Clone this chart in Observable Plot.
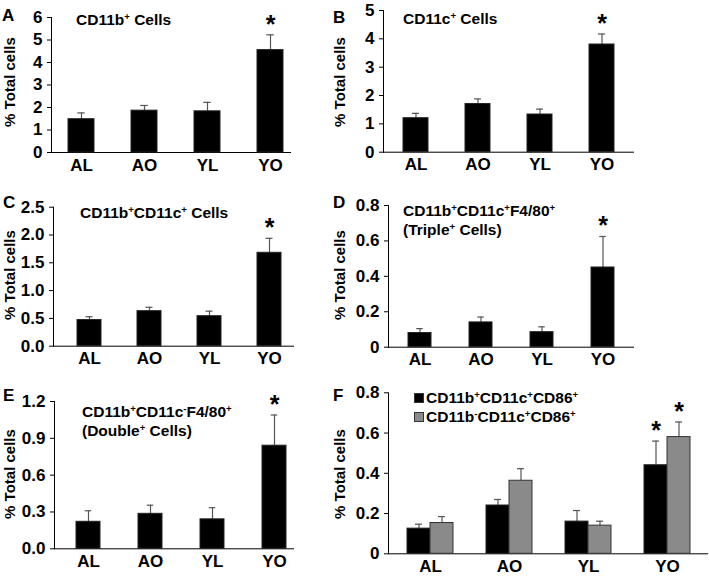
<!DOCTYPE html>
<html>
<head>
<meta charset="utf-8">
<script src="https://cdn.jsdelivr.net/npm/d3@7"></script>
<script src="https://cdn.jsdelivr.net/npm/@observablehq/plot@0.6"></script>
<style>
  html, body { margin: 0; padding: 0; background: #fff; }
  #fig { position: relative; width: 709px; height: 581px; overflow: hidden; font-family: "Liberation Sans", Arial, sans-serif; font-weight: bold; color: #000; }
  .panel { position: absolute; }
  .lbl { position: absolute; white-space: nowrap; line-height: 1; }
  .letter { font-size: 17px; }
  .title { font-size: 15.5px; line-height: 17px; }
  .ylab { font-size: 15px; transform: translate(-50%, -50%) rotate(-90deg); }
  sup { font-size: 0.62em; vertical-align: 0; position: relative; top: -0.55em; }
  .sw { display: inline-block; width: 10px; height: 10px; box-sizing: border-box; border: 1px solid #333; margin-right: 2px; vertical-align: 0; position: relative; top: 0px; }
</style>
</head>
<body>
<div id="fig"></div>
<script>
// ---------------- data ----------------
const groups = ["AL", "AO", "YL", "YO"];
const significant = [false, false, false, true];

const cd11bMean = [1.48, 1.86, 1.83, 4.55];
const cd11bErr  = [0.28, 0.23, 0.40, 0.68];

const cd11cMean = [1.20, 1.70, 1.33, 3.80];
const cd11cErr  = [0.17, 0.18, 0.19, 0.37];

const doubleCMean = [0.47, 0.63, 0.54, 1.68];
const doubleCErr  = [0.06, 0.07, 0.09, 0.26];

const tripleMean = [0.08, 0.14, 0.085, 0.45];
const tripleErr  = [0.025, 0.03, 0.03, 0.175];

const doubleFMean = [0.22, 0.285, 0.24, 0.84];
const doubleFErr  = [0.09, 0.07, 0.095, 0.25];

const cd86PosMean = [0.125, 0.24, 0.16, 0.44];
const cd86PosErr  = [0.022, 0.03, 0.055, 0.12];
const cd86NegMean = [0.153, 0.363, 0.14, 0.58];
const cd86NegErr  = [0.032, 0.06, 0.022, 0.075];

const ticksA = [0, 1, 2, 3, 4, 5, 6];
const ticksB = [0, 1, 2, 3, 4, 5];
const ticksC = [0, 0.5, 1.0, 1.5, 2.0, 2.5];
const ticksD = [0, 0.2, 0.4, 0.6, 0.8];
const ticksE = [0, 0.3, 0.6, 0.9, 1.2];
const ticksF = [0, 0.2, 0.4, 0.6, 0.8];

const seriesF = ["CD11b⁺CD11c⁺CD86⁺", "CD11b⁻CD11c⁺CD86⁺"];
const colorsF = ["#000000", "#8a8a8a"];

// ---------------- layout helpers ----------------
const fig = document.getElementById("fig");
function bandOpts(L, s, w, st) {
  const pi = 1 - w / st;
  const po = Math.max(0, (L / st - groups.length + pi) / 2);
  const align = Math.min(1, Math.max(0, s / (L - st * (groups.length - pi))));
  return {paddingInner: pi, paddingOuter: po, align};
}
function place(node, left, top) {
  const d = document.createElement("div");
  d.className = "panel";
  d.style.left = left + "px"; d.style.top = top + "px";
  d.appendChild(node);
  fig.appendChild(d);
}
function label(html, cls, left, top) {
  const d = document.createElement("div");
  d.className = "lbl " + cls;
  d.style.left = left + "px"; d.style.top = top + "px";
  d.innerHTML = html;
  fig.appendChild(d);
}
const style = {fontFamily: "'Liberation Sans', Arial, sans-serif", fontSize: "17px", fontWeight: "bold", background: "transparent", overflow: "visible", color: "#000"};

function singlePanel(means, errs, yDomain, ticks, fmt, g) {
  const rows = groups.map((grp, i) => ({g: grp, v: means[i], e: errs[i], top: means[i] + errs[i], sig: significant[i]}));
  const L = g.right - g.axis;
  const capInset = (g.w - 7) / 2;
  return Plot.plot({
    width: g.width, height: g.height,
    marginLeft: g.axis, marginRight: g.width - g.right,
    marginTop: g.top, marginBottom: g.height - g.zero,
    style,
    x: {type: "band", domain: groups, ...bandOpts(L, g.s, g.w, g.st), label: null, tickSize: 0, tickPadding: 6, line: true},
    y: {domain: yDomain, ticks, tickFormat: fmt, label: null, tickSize: 4, tickPadding: 5, line: true},
    marks: [
      Plot.ruleX(rows, {x: "g", y1: "v", y2: "top", stroke: "#555", strokeWidth: 1.2}),
      Plot.tickY(rows, {x: "g", y: "top", stroke: "#555", strokeWidth: 1.2, insetLeft: capInset, insetRight: capInset}),
      Plot.barY(rows, {x: "g", y: "v", fill: "#000", stroke: "#222", strokeWidth: 1}),
      Plot.text(rows.filter(d => d.sig), {x: "g", y: "top", text: () => "*", fontSize: 25, fontWeight: "bold", dy: -10})
    ]
  });
}

// Panel A
place(singlePanel(cd11bMean, cd11bErr, [0, 6], ticksA, d3.format("d"),
  {width: 355, height: 190, axis: 51, right: 290, top: 17, zero: 152, s: 17, w: 25.5, st: 63}), 0, 0);
// Panel B
place(singlePanel(cd11cMean, cd11cErr, [0, 5], ticksB, d3.format("d"),
  {width: 354, height: 190, axis: 28, right: 278, top: 10, zero: 151.7, s: 19, w: 25, st: 62.7}), 355, 0);
// Panel C
place(singlePanel(doubleCMean, doubleCErr, [0, 2.5], ticksC, d3.format(".1f"),
  {width: 355, height: 195, axis: 53, right: 293, top: 16.7, zero: 155.7, s: 22, w: 24, st: 60.7}), 0, 190);
// Panel D
place(singlePanel(tripleMean, tripleErr, [0, 0.8], ticksD, d => d === 0 ? "0" : d3.format(".1f")(d),
  {width: 354, height: 195, axis: 33, right: 278, top: 15, zero: 156.7, s: 19, w: 23.5, st: 61.3}), 355, 190);
// Panel E
place(singlePanel(doubleFMean, doubleFErr, [0, 1.2], ticksE, d3.format(".1f"),
  {width: 355, height: 196, axis: 54, right: 293, top: 16, zero: 163.3, s: 20, w: 24.5, st: 62.7}), 0, 385);

// Panel F (grouped)
(function () {
  const rows = [];
  groups.forEach((grp, i) => {
    rows.push({g: grp, s: 0, v: cd86PosMean[i], e: cd86PosErr[i], top: cd86PosMean[i] + cd86PosErr[i], sig: significant[i]});
    rows.push({g: grp, s: 1, v: cd86NegMean[i], e: cd86NegErr[i], top: cd86NegMean[i] + cd86NegErr[i], sig: significant[i]});
  });
  const g = {width: 354, height: 196, axis: 33, right: 352, top: 7.3, zero: 168.3, s: 19, w: 46, st: 79};
  const half = g.w / 2, off = half / 2;
  const capIn = (half - 7) / 2;
  const black = rows.filter(d => d.s === 0), grey = rows.filter(d => d.s === 1);
  const chart = Plot.plot({
    width: g.width, height: g.height,
    marginLeft: g.axis, marginRight: g.width - g.right,
    marginTop: g.top, marginBottom: g.height - g.zero,
    style,
    x: {type: "band", domain: groups, ...bandOpts(g.right - g.axis, g.s, g.w, g.st), label: null, tickSize: 0, tickPadding: 6, line: true},
    y: {domain: [0, 0.8], ticks: ticksF, tickFormat: d => d === 0 ? "0" : d3.format(".1f")(d), label: null, tickSize: 4, tickPadding: 5, line: true},
    marks: [
      Plot.ruleX(black, {x: "g", y1: "v", y2: "top", dx: -off, stroke: "#555", strokeWidth: 1.2}),
      Plot.ruleX(grey, {x: "g", y1: "v", y2: "top", dx: off, stroke: "#555", strokeWidth: 1.2}),
      Plot.tickY(black, {x: "g", y: "top", stroke: "#555", strokeWidth: 1.2, insetLeft: capIn, insetRight: half + capIn}),
      Plot.tickY(grey, {x: "g", y: "top", stroke: "#555", strokeWidth: 1.2, insetLeft: half + capIn, insetRight: capIn}),
      Plot.barY(black, {x: "g", y: "v", fill: colorsF[0], stroke: "#222", strokeWidth: 1, insetRight: half}),
      Plot.barY(grey, {x: "g", y: "v", fill: colorsF[1], stroke: "#333", strokeWidth: 1, insetLeft: half}),
      Plot.text(black.filter(d => d.sig), {x: "g", y: "top", text: () => "*", dx: -off, fontSize: 25, fontWeight: "bold", dy: -10}),
      Plot.text(grey.filter(d => d.sig), {x: "g", y: "top", text: () => "*", dx: off, fontSize: 25, fontWeight: "bold", dy: -10})
    ]
  });
  place(chart, 355, 385);
})();

// ---------------- text overlays ----------------
label("A", "letter", 2, 7);
label("B", "letter", 333, 9);
label("C", "letter", 3, 194);
label("D", "letter", 333, 194);
label("E", "letter", 3, 387);
label("F", "letter", 333, 387);

label("CD11b<sup>+</sup> Cells", "title", 76, 11);
label("CD11c<sup>+</sup> Cells", "title", 403, 10);
label("CD11b<sup>+</sup>CD11c<sup>+</sup> Cells", "title", 80, 204);
label("CD11b<sup>+</sup>CD11c<sup>+</sup>F4/80<sup>+</sup><br>(Triple<sup>+</sup> Cells)", "title", 403, 202);
label("CD11b<sup>+</sup>CD11c<sup>-</sup>F4/80<sup>+</sup><br>(Double<sup>+</sup> Cells)", "title", 82, 403);

label(`<span class="sw" style="background:${colorsF[0]}"></span>CD11b<sup>+</sup>CD11c<sup>+</sup>CD86<sup>+</sup>`, "title", 414, 389);
label(`<span class="sw" style="background:${colorsF[1]}"></span>CD11b<sup>-</sup>CD11c<sup>+</sup>CD86<sup>+</sup>`, "title", 414, 408);

const ylab = "% Total cells";
[[9, 82], [339, 82], [9, 275], [339, 275], [9, 474], [339, 474]].forEach(([x, y]) => label(ylab, "ylab", x, y));
</script>
</body>
</html>
